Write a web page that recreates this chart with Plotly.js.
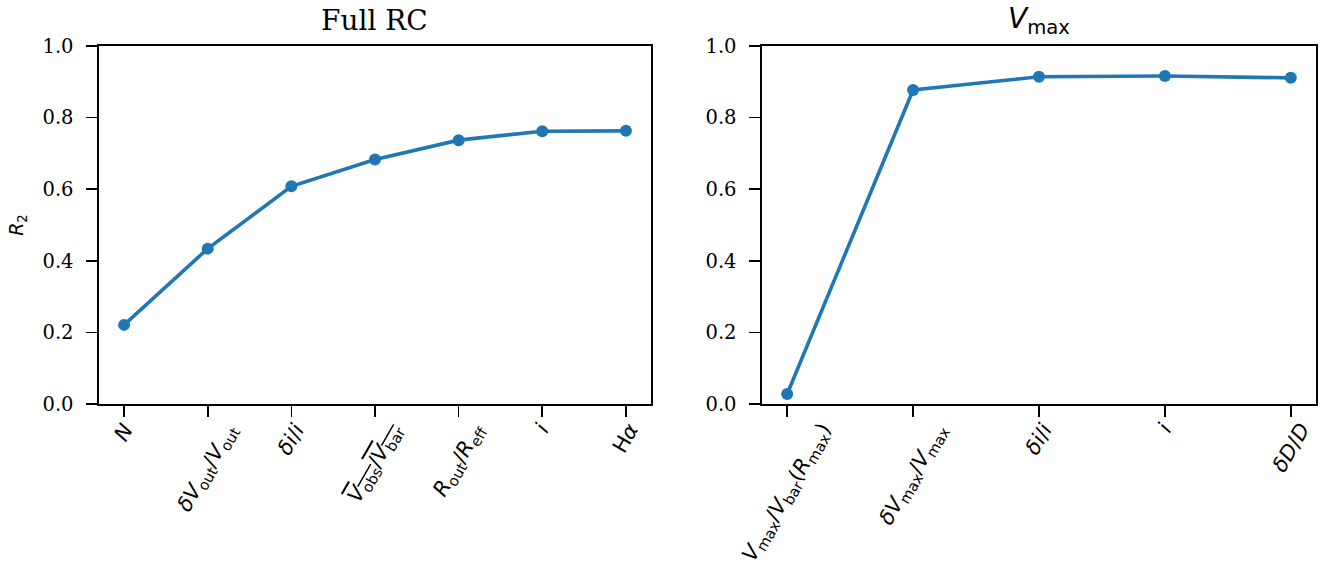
<!DOCTYPE html>
<html>
<head>
<meta charset="utf-8">
<script src="https://cdn.plot.ly/plotly-3.0.1.min.js"></script>
<style>html,body{margin:0;padding:0;background:#fff;}#chart{width:1323px;height:573px;}</style>
</head>
<body>
<div id="chart"></div>
<script>
// Left panel: Full RC
const fullLabels = [
  "<i>N</i>",
  "<i>δV</i><sub>out</sub>/<i>V</i><sub>out</sub>",
  "<i>δi</i>/<i>i</i>",
  "<span style=\"text-decoration:overline\"><i>V</i><sub>obs</sub>/<i>V</i><sub>bar</sub></span>",
  "<i>R</i><sub>out</sub>/<i>R</i><sub>eff</sub>",
  "<i>i</i>",
  "H<i>α</i>"
];
const fullR2 = [0.221, 0.434, 0.608, 0.683, 0.737, 0.762, 0.763];

// Right panel: Vmax
const vmaxLabels = [
  "<i>V</i><sub>max</sub>/<i>V</i><sub>bar</sub>(<i>R</i><sub>max</sub>)",
  "<i>δV</i><sub>max</sub>/<i>V</i><sub>max</sub>",
  "<i>δi</i>/<i>i</i>",
  "<i>i</i>",
  "<i>δD</i>/<i>D</i>"
];
const vmaxR2 = [0.028, 0.877, 0.914, 0.916, 0.911];

const yTicks = [0, 0.2, 0.4, 0.6, 0.8, 1.0];

const fullIdx = fullLabels.map((_, i) => i);
const vmaxIdx = vmaxLabels.map((_, i) => i);

const color = "#1f77b4";
const W = 1323, H = 573;
const SERIF = "'DejaVu Serif', serif";
const SANS = "'DejaVu Sans', sans-serif";

const traces = [
  {x: fullIdx, y: fullR2, mode: "lines+markers", xaxis: "x", yaxis: "y",
   line: {color: color, width: 3.6}, marker: {color: color, size: 12}, showlegend: false},
  {x: vmaxIdx, y: vmaxR2, mode: "lines+markers", xaxis: "x2", yaxis: "y2",
   line: {color: color, width: 3.6}, marker: {color: color, size: 12}, showlegend: false}
];

const axisCommon = {
  showline: true, linecolor: "#000", linewidth: 1.6, mirror: true,
  ticks: "outside", ticklen: 11, tickwidth: 1.6, tickcolor: "#000",
  showgrid: false, zeroline: false
};
const xTickFont = {family: SANS, size: 21, color: "#000"};
const yTickFont = {family: SERIF, size: 19.5, color: "#000"};

function tickAnnots(labels, xref, yref) {
  return labels.map((t, i) => ({
    text: t, x: i, y: 0, xref: xref, yref: yref, yshift: -14,
    xanchor: "center", yanchor: "top", textangle: -60, showarrow: false,
    font: xTickFont, borderpad: 0
  }));
}

const layout = {
  width: W, height: H,
  margin: {l: 0, r: 0, t: 46, b: 169},
  paper_bgcolor: "#fff", plot_bgcolor: "#fff",
  showlegend: false,
  font: {family: SERIF, color: "#000"},
  xaxis: Object.assign({}, axisCommon, {
    domain: [99 / W, 651 / W], range: [-0.3, fullIdx.length - 1 + 0.3],
    tickmode: "array", tickvals: fullIdx, showticklabels: false, anchor: "y"
  }),
  yaxis: Object.assign({}, axisCommon, {
    range: [0, 1], tickmode: "array", tickvals: yTicks, ticklabelstandoff: 9,
    ticktext: yTicks.map(v => v.toFixed(1)), tickfont: yTickFont, anchor: "x",
    title: {text: "<i>R</i><sub>2</sub>", font: {family: SANS, size: 19, color: "#000"}, standoff: 14}
  }),
  xaxis2: Object.assign({}, axisCommon, {
    domain: [762 / W, 1316 / W], range: [-0.2, vmaxIdx.length - 1 + 0.2],
    tickmode: "array", tickvals: vmaxIdx, showticklabels: false, anchor: "y2"
  }),
  yaxis2: Object.assign({}, axisCommon, {
    range: [0, 1], tickmode: "array", tickvals: yTicks, ticklabelstandoff: 9,
    ticktext: yTicks.map(v => v.toFixed(1)), tickfont: yTickFont, anchor: "x2"
  }),
  annotations: [
    {text: "Full RC", xref: "x domain", yref: "paper", x: 0.5, y: 1, yshift: 26,
     xanchor: "center", yanchor: "middle", showarrow: false,
     font: {family: SERIF, size: 28, color: "#000"}},
    {text: "<i>V</i><sub>max</sub>", xref: "x2 domain", yref: "paper", x: 0.5, y: 1, yshift: 26,
     xanchor: "center", yanchor: "middle", showarrow: false,
     font: {family: SANS, size: 28, color: "#000"}}
  ].concat(tickAnnots(fullLabels, "x", "y"), tickAnnots(vmaxLabels, "x2", "y2"))
};

Plotly.newPlot("chart", traces, layout, {staticPlot: true, displayModeBar: false});
</script>
</body>
</html>
